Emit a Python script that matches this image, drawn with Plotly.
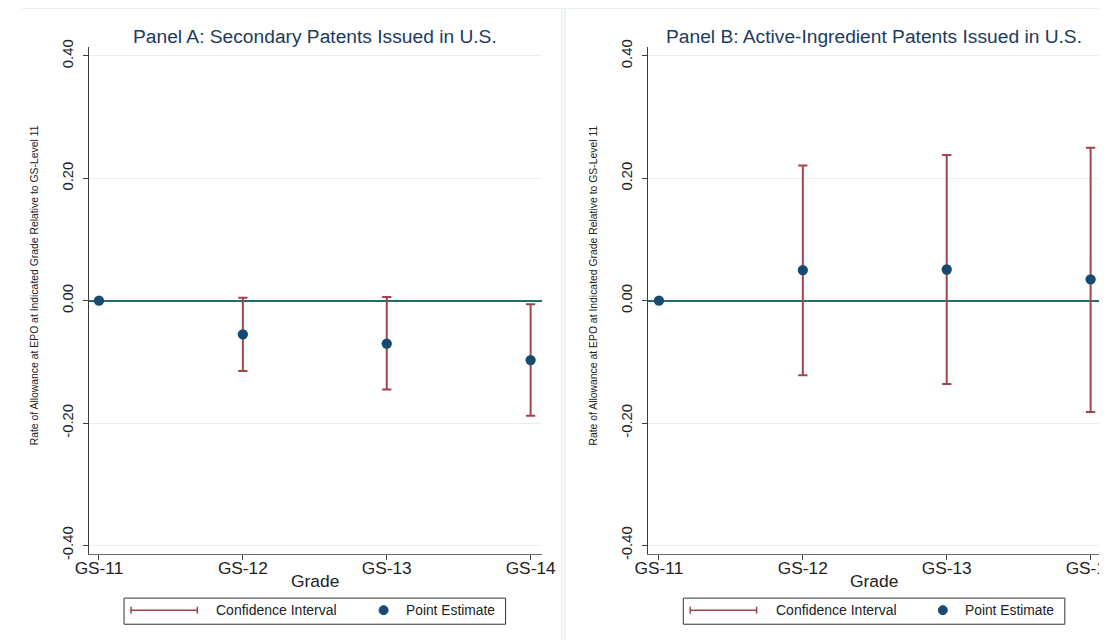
import plotly.graph_objects as go

# ---------------- data ----------------
grades = ["GS-11", "GS-12", "GS-13", "GS-14"]
grade_pos = [0, 1, 2, 3]

a_est = [0.0, -0.055, -0.070, -0.097]
a_lo = [None, -0.115, -0.145, -0.188]
a_hi = [None, 0.005, 0.006, -0.006]

b_est = [0.0, 0.050, 0.051, 0.035]
b_lo = [None, -0.122, -0.136, -0.182]
b_hi = [None, 0.221, 0.238, 0.250]

y_ticks = [-0.4, -0.2, 0.0, 0.2, 0.4]
y_ticktext = ["-0.40", "-0.20", "0.00", "0.20", "0.40"]

titles = ["Panel A: Secondary Patents Issued in U.S.",
          "Panel B: Active-Ingredient Patents Issued in U.S."]
y_title = "Rate of Allowance at EPO at Indicated Grade Relative to GS-Level 11"
x_title = "Grade"
legend_labels = ["Confidence Interval", "Point Estimate"]

# ---------------- geometry (picture pixels -> figure paper coords) ----------------
SX, SY = 0.971, 0.975
DX, DY = 15.6, 8.9
BODY = 8
W = 1116
H = 639
FS = 1 / 0.973

FONT = "Liberation Sans, Arial, sans-serif"
CI_COLOR = "#a3434c"
PT_COLOR = "#164a70"
ZERO_COLOR = "#1f6f6a"
GRID_COLOR = "#e6eff1"
AXIS_COLOR = "#3a3a3a"
TITLE_COLOR = "#1e3a5c"
BORDER_COLOR = "#e6eff1"
TEXT_COLOR = "#222"


def px(x):
    return ((x - DX) / SX - BODY) / W


def py(y):
    return 1 - ((y - DY) / SY - BODY) / H


def f(size):
    return round(size * FS, 2)


fig = go.Figure()

panels = [(a_est, a_lo, a_hi), (b_est, b_lo, b_hi)]
offsets = [0, 557]
for i, (est, lo, hi) in enumerate(panels):
    xa = "x" if i == 0 else "x2"
    ya = "y" if i == 0 else "y2"
    plus = [0 if h is None else h - e for h, e in zip(hi, est)]
    minus = [0 if l is None else e - l for l, e in zip(lo, est)]
    fig.add_trace(go.Scatter(
        x=grade_pos, y=est, mode="markers", xaxis=xa, yaxis=ya,
        marker=dict(size=1, color="rgba(0,0,0,0)"),
        error_y=dict(type="data", symmetric=False, array=plus, arrayminus=minus,
                     color=CI_COLOR, thickness=2, width=f(4.5)),
        showlegend=False, hoverinfo="skip", name="Confidence Interval"))
    fig.add_trace(go.Scatter(
        x=grade_pos, y=est, mode="markers", xaxis=xa, yaxis=ya,
        marker=dict(size=f(10), color=PT_COLOR),
        showlegend=False, name="Point Estimate"))

ydom = [py(553), py(48)]
common_x = dict(
    tickmode="array", tickvals=grade_pos, ticktext=grades,
    ticks="outside", ticklen=5, tickcolor=AXIS_COLOR,
    showline=True, linecolor="#6a6a6a", linewidth=1.3,
    showgrid=False, zeroline=False,
    tickfont=dict(family=FONT, size=17.3, color=TEXT_COLOR),
    ticklabelstandoff=-7,
)
common_y = dict(
    range=[-0.414, 0.414], tickmode="array", tickvals=y_ticks, ticktext=y_ticktext,
    tickangle=-90, ticks="outside", ticklen=5, tickcolor=AXIS_COLOR,
    showline=True, linecolor=AXIS_COLOR, linewidth=1.3,
    showgrid=True, gridcolor=GRID_COLOR, gridwidth=1,
    zeroline=True, zerolinecolor=ZERO_COLOR, zerolinewidth=1.5,
    tickfont=dict(family=FONT, size=14.8, color=TEXT_COLOR),
    ticklabelstandoff=4,
)

fig.update_layout(
    width=W, height=H, autosize=False,
    margin=dict(l=0, r=0, t=0, b=0),
    paper_bgcolor="white", plot_bgcolor="white",
    showlegend=False,
    xaxis=dict(common_x, domain=[px(90), px(541)], range=[-0.07, 3.077]),
    yaxis=dict(common_y, domain=ydom, anchor="x"),
    xaxis2=dict(common_x, domain=[px(647), min(1.0, px(1098))], range=[-0.075, 3.072], anchor="y2"),
    yaxis2=dict(common_y, domain=ydom, anchor="x2"),
)

shapes = []
annotations = []
bline = dict(color=BORDER_COLOR, width=1.5)
# faint panel-region borders
shapes.append(dict(type="line", xref="paper", yref="paper", x0=0, x1=1,
                   y0=py(9), y1=py(9), line=bline, layer="below"))
for xb in (561, 564):
    shapes.append(dict(type="line", xref="paper", yref="paper", x0=px(xb), x1=px(xb),
                       y0=0, y1=py(9), line=bline, layer="below"))

for i, off in enumerate(offsets):
    # panel title
    annotations.append(dict(text=titles[i], xref="paper", yref="paper",
                            x=px(315 + off), y=py(37), xanchor="center", yanchor="middle",
                            showarrow=False,
                            font=dict(family=FONT, size=19.2, color=TITLE_COLOR)))
    # y-axis title
    annotations.append(dict(text=y_title, xref="paper", yref="paper", textangle=-90,
                            x=px(36 + off), y=py(285.5), xanchor="center", yanchor="middle",
                            showarrow=False,
                            font=dict(family=FONT, size=10.4, color=TEXT_COLOR)))
    # x-axis title
    annotations.append(dict(text=x_title, xref="paper", yref="paper",
                            x=px(315 + off), y=py(580), xanchor="center", yanchor="middle",
                            showarrow=False,
                            font=dict(family=FONT, size=17.4, color=TEXT_COLOR)))
    # legend box
    shapes.append(dict(type="rect", xref="paper", yref="paper",
                       x0=px(125 + off), x1=px(505 + off), y0=py(623), y1=py(597),
                       line=dict(color="#333", width=1), fillcolor="white"))
    # CI legend symbol
    shapes.append(dict(type="line", xref="paper", yref="paper",
                       x0=px(132 + off), x1=px(198 + off), y0=py(609), y1=py(609),
                       line=dict(color=CI_COLOR, width=1.5)))
    for cx in (132, 198):
        shapes.append(dict(type="line", xref="paper", yref="paper",
                           x0=px(cx + off), x1=px(cx + off), y0=py(605.5), y1=py(612.5),
                           line=dict(color=CI_COLOR, width=1.5)))
    # point legend symbol
    shapes.append(dict(type="circle", xref="paper", yref="paper",
                       x0=px(379 + off), x1=px(388 + off), y0=py(613.5), y1=py(604.5),
                       line=dict(color=PT_COLOR, width=1), fillcolor=PT_COLOR))
    annotations.append(dict(text=legend_labels[0], xref="paper", yref="paper",
                            x=px(215 + off), y=py(609), xanchor="left", yanchor="middle",
                            showarrow=False, font=dict(family=FONT, size=14, color=TEXT_COLOR)))
    annotations.append(dict(text=legend_labels[1], xref="paper", yref="paper",
                            x=px(404 + off), y=py(609), xanchor="left", yanchor="middle",
                            showarrow=False, font=dict(family=FONT, size=13.8, color=TEXT_COLOR)))

fig.update_layout(shapes=shapes, annotations=annotations)
fig.write_html("out.html")
